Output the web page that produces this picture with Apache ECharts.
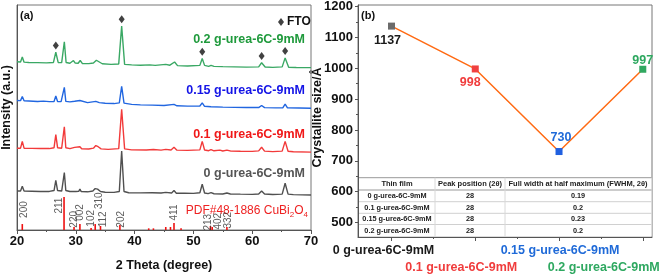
<!DOCTYPE html>
<html><head><meta charset="utf-8">
<script src="https://cdn.jsdelivr.net/npm/echarts@6/dist/echarts.min.js"></script>
<style>html,body{margin:0;padding:0;background:#fff}#c{width:660px;height:277px}</style>
</head><body><div id="c"></div>
<script>
// ---------------- DATA ----------------
// XRD patterns: [2theta (deg), intensity (a.u.)]
const xrd_0g = [[20,4],[20.6,4],[20.9,9],[21.2,4],[22.5,3.8],[24,3.6],[25.5,3.6],[26.3,4.5],[26.6,15],[26.9,4.5],[27.6,4],[27.8,5],[28.05,23],[28.3,4.5],[29,3.5],[29.6,3.6],[29.8,5],[30.0,3.6],[30.5,3.7],[30.7,6],[30.9,3.6],[32,3.2],[32.9,4],[33.3,6.5],[33.7,6],[34.2,3.5],[35,2.7],[36.5,2.6],[37.4,3.5],[37.8,45],[38.2,3.5],[39,2.2],[41,2.1],[43,2.2],[44.5,2],[45.3,2.6],[46.3,2],[46.7,4.5],[47.1,1.8],[48.5,1.7],[50,1.6],[51.1,2.2],[51.5,11],[51.9,2],[52.5,1.3],[53,2.3],[53.5,1.2],[55,1],[55.7,2],[56.3,1],[58,0.8],[60,0.6],[61.1,1],[61.6,4],[62.1,0.9],[63.5,0.4],[65.1,0.8],[65.6,12],[66.1,0.8],[67,0.3],[70,0]];
const xrd_01g = [[20,4],[20.6,4],[20.9,11],[21.2,4],[22.5,3.8],[24,3.7],[25.5,3.6],[26.3,4.5],[26.6,18],[26.9,4.5],[27.6,4],[27.8,5],[28.05,26],[28.3,4.5],[29,3.5],[29.8,4.8],[30.1,3.5],[30.7,5.5],[31,3.4],[32.2,3.2],[33.0,4],[33.4,6.7],[33.8,5.5],[34.3,3.3],[35.5,2.8],[37.3,3.5],[37.8,44],[38.3,3.3],[39.5,2.3],[42,2.2],[43.2,2.6],[44.5,2],[45.3,2.8],[46.2,2.2],[46.7,5],[47.2,2],[49,1.7],[51.1,2.3],[51.5,11],[51.9,2.1],[52.6,1.4],[53,2.5],[53.5,1.3],[54.5,2],[55,1.1],[55.7,2],[56.4,1],[58,0.8],[60,0.7],[61.1,1.2],[61.6,5],[62.1,1],[63.5,0.5],[65.1,1],[65.6,11],[66.1,0.8],[67,0.3],[70,0]];
const xrd_015g = [[20,8],[20.6,7.8],[20.9,12],[21.2,7.6],[22,7.5],[23.5,7],[24.5,7.3],[25.5,6.8],[26.3,7],[26.6,12.5],[26.9,7],[27.5,6.8],[27.8,7.5],[28.05,21.5],[28.3,7],[29,6.5],[29.8,7.2],[30.1,6.3],[30.7,8],[31,6.2],[32,5.8],[33.4,7],[34,5.8],[35,5.2],[36.5,4.8],[37.4,5.5],[37.8,22.5],[38.2,5.2],[39.5,4],[41,3.5],[43,3.2],[45,2.8],[46.7,4],[47.2,2.5],[49,2.2],[51.1,2.3],[51.5,5.5],[51.9,2],[53,1.6],[55,1.2],[57,0.9],[59,0.7],[61.1,0.7],[61.6,2.8],[62.1,0.6],[64,0.4],[65.2,0.5],[65.6,4.3],[66,0.4],[68,0.2],[70,0]];
const xrd_02g = [[20,6.7],[20.6,6.5],[20.9,11.7],[21.2,6.3],[22,6],[23.5,5.8],[25,5.6],[26.2,6],[26.6,16.5],[27,6],[27.6,5.8],[27.8,6.5],[28.05,27.3],[28.35,6],[29,5.2],[29.6,8],[29.9,5.3],[30.4,5.2],[30.75,8],[31.1,5],[32.2,4.8],[33.0,5.5],[33.5,8.3],[34,6.5],[34.5,4.7],[36,4],[37.3,4.5],[37.8,43.3],[38.3,4],[39.5,3.5],[41,3.2],[42.6,3.5],[43.5,3],[45.3,4],[46,3.2],[46.8,6.5],[47.3,2.8],[49,2.3],[51.1,3],[51.5,10],[51.9,3],[52.6,2],[53,3],[53.5,2],[55,1.7],[57,1.5],[59,1.2],[61.1,1.5],[61.6,5.7],[62.2,1.3],[63.5,1],[65.1,1.5],[65.6,10.7],[66.2,1],[67.5,0.8],[70,0.7]];
const ftoPeaks = [26.6, 37.8, 51.5, 61.6, 65.6];
// PDF#48-1886 CuBi2O4 reference: [2theta, relative intensity %]
const pdfSticks = [[20.9,18],[28.0,100],[29.7,9],[30.7,18],[32.6,6],[33.3,18],[34.2,12],[37.5,15],[42.4,5],[43.2,5],[45.3,9],[46.1,9],[46.7,21],[47.9,5],[52.9,12],[53.2,9],[55.7,9]];
const pdfHkl = ['200','211','220','002','102','310','112','202','411','213','402','332'];
const thetaTicks = [20,30,40,50,60,70];

// Panel (b)
const samples = ['0 g-urea-6C-9mM','0.1 g-urea-6C-9mM','0.15 g-urea-6C-9mM','0.2 g-urea-6C-9mM'];
const crystalliteSize = [1137, 998, 730, 997];
const peakPosition = [28, 28, 28, 28];
const fwhm = [0.19, 0.2, 0.23, 0.2];
const sizeTicks = [500,600,700,800,900,1000,1100,1200];
const tableHeader = ['Thin film','Peak position (2\u03b8)','Full width at half maximum (FWHM, 2\u03b8)'];

// ---------------- LAYOUT / STYLE ----------------
const FONT = 'Liberation Sans, Arial, sans-serif';
const curveOffsets = [36, 80, 125, 166];
const curveColors = ['#505050','#f23a3a','#2166e0','#3aa864'];
const curveLabelColors = ['#555555','#f01818','#1414e6','#1f9a3c'];
const curveLabelY = [174, 134.5, 90.5, 40];
const stickScale = 0.34;
// hkl label anchor positions [2theta, height]
const hklPos = [[21.2,21],[27.2,25],[29.8,11],[30.75,18],[32.6,12],[34.0,30],[34.6,11],[37.65,11],[46.75,18],[52.6,8],[54.3,9],[55.9,10]];
const sampleColorsB = ['#6b6b6b','#f04040','#2060e0','#30a860'];
const sampleTextB = ['#1a1a1a','#f03c3c','#1f6ad8','#2ea860'];
const catLabelDx = [-8, -14, 1, -39];
const catLabelY = [250.7, 267.3, 250.7, 267.3];

const patterns = [xrd_0g, xrd_01g, xrd_015g, xrd_02g];
function peakTop(p, x){ let m=-Infinity; p.forEach(q=>{ if(Math.abs(q[0]-x)<=0.35) m=Math.max(m,q[1]); }); return m; }

const chart = echarts.init(document.getElementById('c'), null, {renderer:'canvas'});

const series = [];
patterns.forEach((p,i)=>{
  series.push({type:'line', xAxisIndex:0, yAxisIndex:0, symbol:'none', silent:true,
    data:p.map(q=>[q[0], q[1]+curveOffsets[i]]),
    lineStyle:{color:curveColors[i], width:1.4}, itemStyle:{color:curveColors[i]}});
});
series.push({type:'bar', xAxisIndex:0, yAxisIndex:0, barWidth:1.6, silent:true,
  data:pdfSticks.map(s=>[s[0], s[1]*stickScale]), itemStyle:{color:'#ee1111'}});
series.push({type:'scatter', name:'FTO', xAxisIndex:0, yAxisIndex:0, symbol:'diamond', symbolSize:[6,8],
  data:ftoPeaks.map(x=>[x, peakTop(xrd_02g,x)+curveOffsets[3]+7]), itemStyle:{color:'#111'}});
series.push({type:'scatter', xAxisIndex:0, yAxisIndex:0, symbolSize:0, silent:true,
  data:pdfHkl.map((h,i)=>({value:hklPos[i], name:h})),
  label:{show:true, position:'inside', rotate:90, formatter:p=>p.name, fontSize:10, fontFamily:FONT, color:'#333'}});

// Panel (b)
const posB = ['bottom','bottom','top','top'];
const offB = [[-4,0],[-5,0],[2,0],[0,5]];
series.push({type:'line', xAxisIndex:1, yAxisIndex:1, symbol:'rect', symbolSize:7,
  lineStyle:{color:'#ff6a13', width:1.5},
  label:{show:true, fontSize:12.5, fontWeight:'bold', fontFamily:FONT, distance:4},
  data:crystalliteSize.map((v,i)=>({value:[i+1, v], itemStyle:{color:sampleColorsB[i]},
    label:{color:sampleTextB[i], position:posB[i], offset:offB[i]}}))});

const axisCol = '#555';
const option = {
  animation:false,
  backgroundColor:'#fff',
  textStyle:{fontFamily:FONT},
  legend:{data:[{name:'FTO', icon:'diamond'}], left:273, top:11, itemWidth:6, itemHeight:8, itemGap:3,
    textStyle:{fontWeight:'bold', fontSize:12, color:'#111', fontFamily:FONT, padding:[0,0,0,-2]}, selectedMode:false},
  grid:[
    {left:17, top:5, width:294, height:231, show:true, borderColor:'#777', borderWidth:1, backgroundColor:'transparent'},
    {left:358, top:5, width:294, height:232, show:true, borderColor:'#777', borderWidth:1, backgroundColor:'transparent'}
  ],
  xAxis:[
    {gridIndex:0, type:'value', min:20, max:70, interval:10,
      axisLine:{lineStyle:{color:axisCol}}, axisTick:{length:4, lineStyle:{color:axisCol}},
      minorTick:{show:true, splitNumber:2, length:2, lineStyle:{color:axisCol}},
      splitLine:{show:false},
      axisLabel:{fontSize:13, fontWeight:'bold', color:'#111', margin:5, fontFamily:FONT},
      name:'2 Theta (degree)', nameLocation:'middle', nameGap:29,
      nameTextStyle:{fontSize:12.5, fontWeight:'bold', color:'#111', fontFamily:FONT}},
    {gridIndex:1, type:'value', min:0.6, max:4.11,
      axisLine:{lineStyle:{color:axisCol}}, axisTick:{length:4, customValues:[1,2,3,4], lineStyle:{color:axisCol}},
      splitLine:{show:false}, axisLabel:{show:false}},
    {gridIndex:1, type:'value', min:0.6, max:4.11, position:'bottom',
      axisLine:{show:false}, axisTick:{length:2, customValues:[1.5,2.5,3.5], lineStyle:{color:axisCol}},
      splitLine:{show:false}, axisLabel:{show:false}}
  ],
  yAxis:[
    {gridIndex:0, type:'value', min:0, max:231, axisLine:{show:true, lineStyle:{color:axisCol}},
      axisTick:{show:false}, axisLabel:{show:false}, splitLine:{show:false}},
    {gridIndex:1, type:'value', min:452.7, max:1205.5,
      axisLine:{show:true, lineStyle:{color:axisCol}},
      axisTick:{length:3, customValues:sizeTicks, lineStyle:{color:axisCol}},
      axisLabel:{customValues:sizeTicks, formatter:v=>String(Math.round(v)), fontSize:13, fontWeight:'bold', color:'#111', margin:5, fontFamily:FONT},
      splitLine:{show:false}},
    {gridIndex:1, type:'value', min:452.7, max:1205.5, position:'left',
      axisLine:{show:false}, axisTick:{length:2, customValues:[550,650,750,850,950,1050,1150], lineStyle:{color:axisCol}},
      axisLabel:{show:false}, splitLine:{show:false}}
  ],
  series:series
};
chart.setOption(option);

// ---- text overlays ----
const g = [];
const bold = s => 'bold '+s+'px '+FONT;
g.push({type:'text', style:{text:'(a)', x:20, y:16, font:bold(11), fill:'#111', verticalAlign:'middle'}});
g.push({type:'text', style:{text:'(b)', x:361, y:16, font:bold(11), fill:'#111', verticalAlign:'middle'}});
g.push({type:'text', rotation:Math.PI/2, x:7, y:107.5, style:{text:'Intensity (a.u.)', x:0, y:0, font:bold(12.5), fill:'#111', align:'center', verticalAlign:'middle'}});
g.push({type:'text', rotation:Math.PI/2, x:318, y:117.5, style:{text:'Crystallite size/\u00c5', x:0, y:0, font:bold(12.5), fill:'#111', align:'center', verticalAlign:'middle'}});
samples.forEach((s,i)=>{
  g.push({type:'text', style:{text:s, x:305, y:curveLabelY[i], font:bold(12.5), fill:curveLabelColors[i], align:'right', verticalAlign:'middle'}});
});
g.push({type:'text', style:{text:'PDF#48-1886 CuBi{s|2}O{s|4}', x:308, y:211, font:'12px '+FONT, fill:'#ee2222', align:'right', verticalAlign:'middle',
  rich:{s:{fontSize:8, fill:'#ee2222', fontFamily:FONT, padding:[7,0,0,0]}}}});
// category labels panel (b)
samples.forEach((s,i)=>{
  const px = chart.convertToPixel({xAxisIndex:1}, i+1);
  g.push({type:'text', style:{text:s, x:px+catLabelDx[i], y:catLabelY[i], font:bold(12.5), fill:sampleTextB[i], align:'center', verticalAlign:'middle'}});
});
// table
const colX = [359, 435, 505, 651.5];
const rowY = [177.7, 190, 201.7, 213.3, 224.5, 236.5];
g.push({type:'rect', shape:{x:359, y:177.7, width:292.5, height:58.8}, style:{fill:'#fff', stroke:null}});
rowY.slice(0,5).forEach((y,i)=>{
  g.push({type:'line', shape:{x1:359, y1:y, x2:651.5, y2:y}, style:{stroke: i<2 ? '#999' : '#d0d0d0', lineWidth:1}});
});
[1,2].forEach(k=>g.push({type:'line', shape:{x1:colX[k], y1:177.7, x2:colX[k], y2:236.5}, style:{stroke:'#d8d8d8', lineWidth:1}}));
const colC = [397, 470, 578];
tableHeader.forEach((h,k)=>g.push({type:'text', style:{text:h, x:colC[k], y:(rowY[0]+rowY[1])/2, font:bold(7.5), fill:'#222', align:'center', verticalAlign:'middle'}}));
samples.forEach((s,i)=>{
  const y = (rowY[i+1]+rowY[i+2])/2;
  [s, String(peakPosition[i]), String(fwhm[i])].forEach((t,k)=>g.push({type:'text', style:{text:t, x:colC[k], y:y, font:bold(7.3), fill:'#222', align:'center', verticalAlign:'middle'}}));
});
chart.setOption({graphic:g});
</script></body></html>
